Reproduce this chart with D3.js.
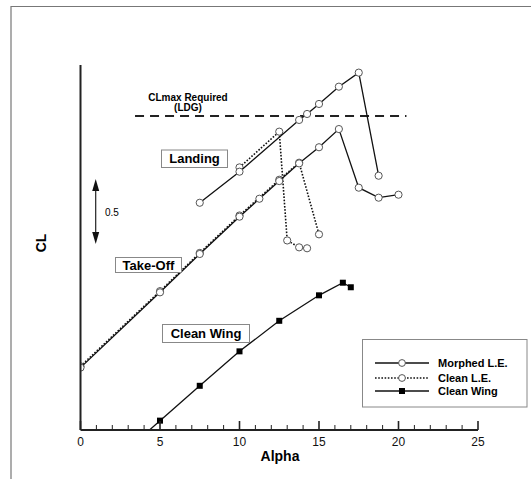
<!DOCTYPE html>
<html><head><meta charset="utf-8">
<script src="https://cdn.jsdelivr.net/npm/d3@7"></script>
<style>body{margin:0;background:#fff}svg{display:block}text{font-family:"Liberation Sans",Arial,Helvetica,sans-serif}</style>
</head><body><svg id="c" width="531" height="479"></svg>
<script>
// Alpha (deg) and CL values (CL axis has no numeric origin; 0.5 scale bar)
const landingMorphedAlpha = [7.5, 10, 13.75, 14.25, 15, 16.25, 17.5, 18.75];
const landingMorphedCL    = [1.748, 1.987, 2.385, 2.431, 2.508, 2.641, 2.749, 1.956];
const landingCleanAlpha   = [10, 12.5, 13, 13.75, 14.25];
const landingCleanCL      = [2.02, 2.295, 1.458, 1.405, 1.398];
const takeoffMorphedAlpha = [0, 5, 7.5, 10, 11.25, 12.5, 13.75, 15, 16.25, 17.5, 18.75, 20];
const takeoffMorphedCL    = [0.48, 1.059, 1.354, 1.641, 1.779, 1.915, 2.051, 2.175, 2.315, 1.864, 1.787, 1.81];
const takeoffCleanAlpha   = [0, 5, 7.5, 10, 12.5, 13.75, 15];
const takeoffCleanCL      = [0.49, 1.068, 1.362, 1.65, 1.925, 2.056, 1.505];
const cleanWingAlpha      = [2.5, 5, 7.5, 10, 12.5, 15, 16.5, 17];
const cleanWingCL         = [-0.2, 0.072, 0.34, 0.605, 0.84, 1.036, 1.133, 1.098];
const clmaxRequired = 2.415;
const clmaxAlphaRange = [3.43, 20.5];
const xTicks = [0, 5, 10, 15, 20, 25];
const legendLabels = ["Morphed L.E.", "Clean L.E.", "Clean Wing"];

const svg = d3.select("#c");
const x = d3.scaleLinear().domain([0, 25]).range([80.5, 478]);
const y = d3.scaleLinear().domain([0, 2.8]).range([430, 66]);

// frame
svg.append("path").attr("d","M11,479V6.5H531").attr("fill","none").attr("stroke","#777").attr("stroke-width",1.2);

svg.append("defs").append("clipPath").attr("id","clip")
  .append("rect").attr("x",80).attr("y",40).attr("width",420).attr("height",390);

const zip = (a, c) => a.map((v, i) => ({a: v, c: c[i]}));
const line = d3.line().x(d => x(d.a)).y(d => y(d.c));
const g = svg.append("g").attr("clip-path","url(#clip)");

// dashed CLmax line
g.append("line").attr("x1",x(clmaxAlphaRange[0])).attr("x2",x(clmaxAlphaRange[1]))
  .attr("y1",y(clmaxRequired)).attr("y2",y(clmaxRequired))
  .attr("stroke","#222").attr("stroke-width",2).attr("stroke-dasharray","9,6");

function series(data, dotted, marker) {
  g.append("path").datum(data).attr("d", line).attr("fill","none")
    .attr("stroke","#111").attr("stroke-width", dotted ? 1.6 : 1.3)
    .attr("stroke-dasharray", dotted ? "1.6,1.6" : null);
  if (marker === "circle") {
    g.selectAll(null).data(data).enter().append("circle")
      .attr("cx", d => x(d.a)).attr("cy", d => y(d.c)).attr("r", 3.6)
      .attr("fill","#fff").attr("stroke","#555").attr("stroke-width",1);
  } else {
    g.selectAll(null).data(data).enter().append("rect")
      .attr("x", d => x(d.a) - 3).attr("y", d => y(d.c) - 3).attr("width", 6).attr("height", 6)
      .attr("fill","#000");
  }
}
series(zip(takeoffCleanAlpha, takeoffCleanCL), true, "circle");
series(zip(landingCleanAlpha, landingCleanCL), true, "circle");
series(zip(takeoffMorphedAlpha, takeoffMorphedCL), false, "circle");
series(zip(landingMorphedAlpha, landingMorphedCL), false, "circle");
series(zip(cleanWingAlpha, cleanWingCL), false, "square");

// axes
svg.append("line").attr("x1",80.5).attr("x2",80.5).attr("y1",65).attr("y2",430).attr("stroke","#222").attr("stroke-width",2);
const xa = svg.append("g").attr("transform","translate(0,430)");
xa.append("line").attr("x1",x(0)).attr("x2",x(25)).attr("stroke","#222").attr("stroke-width",2);
xa.selectAll(null).data(d3.range(0,26)).enter().append("line")
  .attr("x1",d=>x(d)).attr("x2",d=>x(d)).attr("y1",0).attr("y2",d=> d%5===0 ? -9 : -5)
  .attr("stroke","#222").attr("stroke-width",d=> d%5===0 ? 1.6 : 1);
xa.selectAll(null).data(xTicks).enter().append("text")
  .attr("x",d=>x(d)).attr("y",16).attr("text-anchor","middle").attr("font-size",12).attr("fill","#111").text(d=>d);
svg.append("text").attr("x",280).attr("y",461).attr("text-anchor","middle").attr("font-size",14).attr("font-weight","bold").text("Alpha");
svg.append("text").attr("transform","translate(46,243) rotate(-90)").attr("text-anchor","middle").attr("font-size",14).attr("font-weight","bold").text("CL");

// scale bar 0.5
const ax = 95.7, c0 = 1.43, c1 = c0 + 0.5;
svg.append("line").attr("x1",ax).attr("x2",ax).attr("y1",y(c1)+8).attr("y2",y(c0)-8).attr("stroke","#222").attr("stroke-width",1.2);
svg.append("path").attr("d",`M${ax},${y(c1)} l-3.5,12 h7 z`).attr("fill","#111");
svg.append("path").attr("d",`M${ax},${y(c0)} l-3.5,-12 h7 z`).attr("fill","#111");
svg.append("text").attr("x",105).attr("y",(y(c0)+y(c1))/2+4).attr("font-size",10).text("0.5");

// CLmax label
svg.append("text").attr("x",188).attr("y",101).attr("text-anchor","middle").attr("font-size",10).attr("font-weight","bold").text("CLmax Required");
svg.append("text").attr("x",188).attr("y",111).attr("text-anchor","middle").attr("font-size",10).attr("font-weight","bold").text("(LDG)");

// boxed labels
function boxLabel(txt, x0, y0, w, h, fs) {
  svg.append("rect").attr("x",x0).attr("y",y0).attr("width",w).attr("height",h).attr("fill","#fff").attr("stroke","#888").attr("stroke-width",1);
  svg.append("text").attr("x",x0+w/2).attr("y",y0+h/2+fs*0.36).attr("text-anchor","middle").attr("font-size",fs).attr("font-weight","bold").text(txt);
}
boxLabel("Landing", 161.5, 150, 66, 17.5, 13);
boxLabel("Take-Off", 115.5, 257.5, 66, 15, 13);
boxLabel("Clean Wing", 162.5, 324.5, 87, 18, 13);

// legend
svg.append("rect").attr("x",362.5).attr("y",339.5).attr("width",164.5).attr("height",67.5).attr("fill","#fff").attr("stroke","#888").attr("stroke-width",1);
const ly = [363, 378, 391];
legendLabels.forEach((t, i) => {
  svg.append("line").attr("x1",375).attr("x2",429).attr("y1",ly[i]).attr("y2",ly[i])
    .attr("stroke","#111").attr("stroke-width", i===1 ? 1.4 : 1.3).attr("stroke-dasharray", i===1 ? "1.6,1.6" : null);
  if (i < 2) svg.append("circle").attr("cx",402).attr("cy",ly[i]).attr("r",3.4).attr("fill","#fff").attr("stroke","#555");
  else svg.append("rect").attr("x",399).attr("y",ly[i]-3).attr("width",6).attr("height",6).attr("fill","#000");
  svg.append("text").attr("x",438).attr("y",ly[i]+4).attr("font-size",11).attr("font-weight","bold").text(t);
});
</script></body></html>
